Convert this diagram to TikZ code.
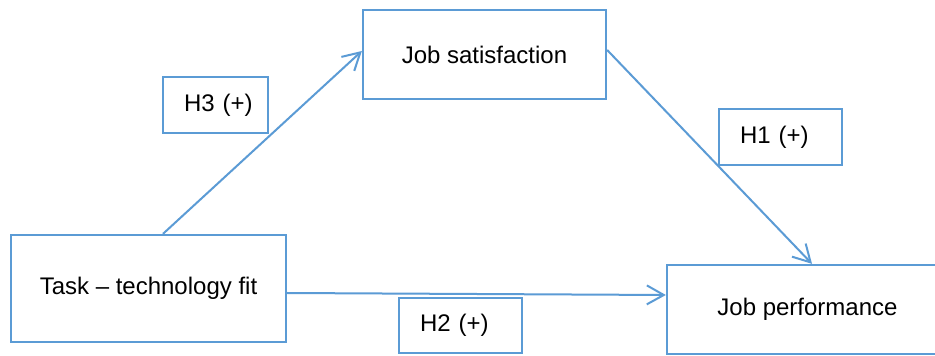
\documentclass[tikz,border=0pt]{standalone}
\usepackage{fontspec}
\setmainfont{Liberation Sans}
\usetikzlibrary{arrows.meta}
\definecolor{edgeblue}{RGB}{91,155,213}
\tikzset{
  mainbox/.style={draw=edgeblue, line width=2.3pt, fill=white, inner sep=0pt,
    font=\fontsize{24}{28}\selectfont},
  hypbox/.style={draw=edgeblue, line width=2.3pt, fill=white, inner ysep=0pt,
    inner xsep=21pt, align=left, minimum height=56pt,
    font=\fontsize{24}{28}\selectfont},
  link/.style={draw=edgeblue, line width=2pt,
    -{Straight Barb[length=17pt,width=19pt]}}
}
\begin{document}
\begin{tikzpicture}[x=1pt,y=1pt]
  \clip (0,0) rectangle (935,356);
  \fill[white] (0,0) rectangle (935,356);

  % constructs
  \node[mainbox, minimum width=243pt, minimum height=89pt] (js) at (484.5,301.5) {Job satisfaction};
  \node[mainbox, minimum width=275pt, minimum height=107pt] (task) at (148.5,67.5) {Task -- technology fit};
  \node[mainbox, minimum width=281pt, minimum height=89pt] (jp) at (807.5,46.5) {Job performance};

  % relationships
  \draw[link] ([xshift=14.5pt]task.north) -- ([yshift=3.5pt]js.west);
  \draw[link] ([yshift=4.5pt]js.east) -- ([xshift=4.5pt]jp.north);
  \draw[link] ([yshift=-4.5pt]task.east) -- ([yshift=14.5pt]jp.west);

  % hypothesis labels
  \node[hypbox, text width=63pt] (h3) at (215.5,251) {\mbox{H3 (+)}};
  \node[hypbox, text width=81pt] (h1) at (780.5,219) {\mbox{H1 (+)}};
  \node[hypbox, text width=81pt, minimum height=55pt] (h2) at (460.5,30.5) {\mbox{H2 (+)}};
\end{tikzpicture}
\end{document}
